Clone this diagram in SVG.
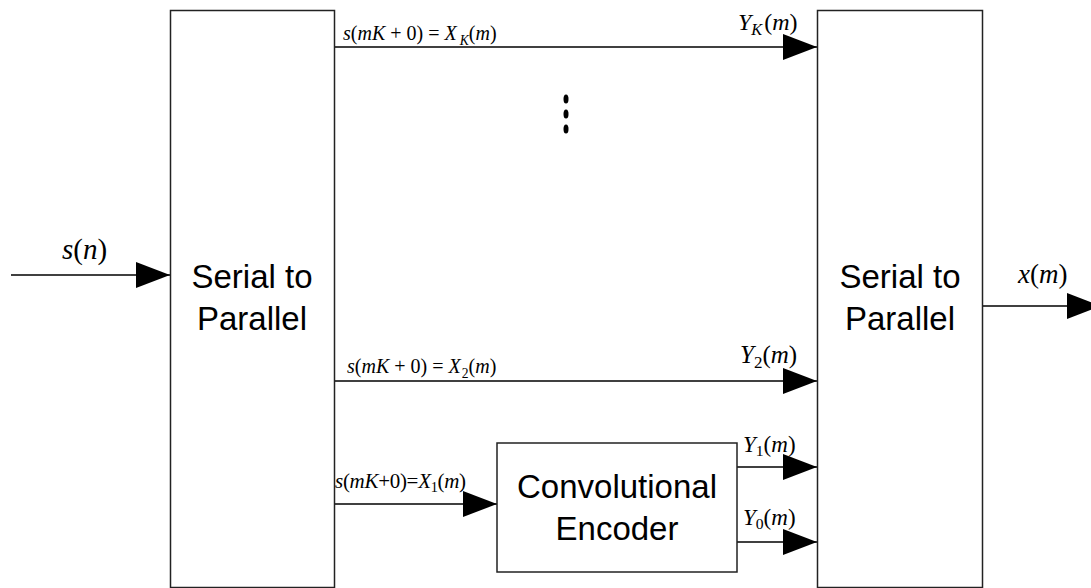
<svg xmlns="http://www.w3.org/2000/svg" width="1091" height="588" viewBox="0 0 1091 588">
  <defs>
    <marker id="arr" markerWidth="34" markerHeight="26" refX="34" refY="13" orient="auto" markerUnits="userSpaceOnUse">
      <path d="M0,0 L34,13 L0,26 Z" fill="#000"/>
    </marker>
    <style>
      .box { fill: #fff; stroke: #222; stroke-width: 1.5; }
      .wire { fill: none; stroke: #000; stroke-width: 1.3; marker-end: url(#arr); }
      .blk { font-family: "Liberation Sans", Arial, sans-serif; font-size: 33px; fill: #000; text-anchor: middle; }
      .math { font-family: "Liberation Serif", "Times New Roman", serif; fill: #000; }
      .i { font-style: italic; }
      .sub { font-size: 68%; }
    </style>
  </defs>
  <rect width="1091" height="588" fill="#fff"/>

  <g id="connectors">
    <line class="wire" x1="11" y1="275" x2="170" y2="275"/>
    <line class="wire" x1="335" y1="47" x2="817" y2="47"/>
    <line class="wire" x1="335" y1="381" x2="817" y2="381"/>
    <line class="wire" x1="335" y1="504" x2="497" y2="504"/>
    <line class="wire" x1="737" y1="467" x2="817" y2="467"/>
    <line class="wire" x1="737" y1="542" x2="817" y2="542"/>
    <line class="wire" x1="983" y1="306" x2="1101" y2="306"/>
  </g>

  <g id="s2p-left">
    <rect class="box" x="170.5" y="10.5" width="164" height="577"/>
    <text class="blk" x="252" y="288">Serial to</text>
    <text class="blk" x="252" y="330">Parallel</text>
  </g>

  <g id="s2p-right">
    <rect class="box" x="817.5" y="10.5" width="165" height="577"/>
    <text class="blk" x="900" y="288">Serial to</text>
    <text class="blk" x="900" y="330">Parallel</text>
  </g>

  <g id="encoder">
    <rect class="box" x="497" y="443" width="240" height="129"/>
    <text class="blk" x="617" y="498">Convolutional</text>
    <text class="blk" x="617" y="540">Encoder</text>
  </g>

  <g id="ellipsis">
    <ellipse cx="566" cy="99" rx="2.5" ry="4.5" fill="#000"/>
    <ellipse cx="566" cy="114" rx="2.5" ry="4.5" fill="#000"/>
    <ellipse cx="566" cy="129" rx="2.5" ry="4.5" fill="#000"/>
  </g>

  <g id="labels">
    <text class="math" x="62" y="259" font-size="29"><tspan class="i">s</tspan>(<tspan class="i">n</tspan>)</text>
    <text class="math" x="1018" y="283" font-size="27"><tspan class="i">x</tspan>(<tspan class="i">m</tspan>)</text>

    <text class="math" x="343" y="40" font-size="20"><tspan class="i">s</tspan>(<tspan class="i">mK</tspan> + 0) = <tspan class="i">X</tspan><tspan class="i sub" dx="3" dy="5">K</tspan><tspan dy="-5">(</tspan><tspan class="i">m</tspan>)</text>
    <text class="math" x="738" y="30" font-size="24"><tspan class="i">Y</tspan><tspan class="i sub" dy="5">K</tspan><tspan dx="2" dy="-5">(</tspan><tspan class="i">m</tspan>)</text>

    <text class="math" x="347" y="373" font-size="20"><tspan class="i">s</tspan>(<tspan class="i">mK</tspan> + 0) = <tspan class="i">X</tspan><tspan class="sub" dx="1" dy="5">2</tspan><tspan dy="-5">(</tspan><tspan class="i">m</tspan>)</text>
    <text class="math" x="740" y="363" font-size="25"><tspan class="i">Y</tspan><tspan class="sub" dy="5">2</tspan><tspan dy="-5">(</tspan><tspan class="i">m</tspan>)</text>

    <text class="math" x="335" y="488" font-size="21" letter-spacing="-0.3"><tspan class="i">s</tspan>(<tspan class="i">mK</tspan>+0)=<tspan class="i">X</tspan><tspan class="sub" dy="4">1</tspan><tspan dy="-4">(</tspan><tspan class="i">m</tspan>)</text>
    <text class="math" x="743" y="452" font-size="23"><tspan class="i">Y</tspan><tspan class="sub" dy="4">1</tspan><tspan dy="-4">(</tspan><tspan class="i">m</tspan>)</text>
    <text class="math" x="743" y="525" font-size="23"><tspan class="i">Y</tspan><tspan class="sub" dy="4">0</tspan><tspan dy="-4">(</tspan><tspan class="i">m</tspan>)</text>
  </g>
</svg>
